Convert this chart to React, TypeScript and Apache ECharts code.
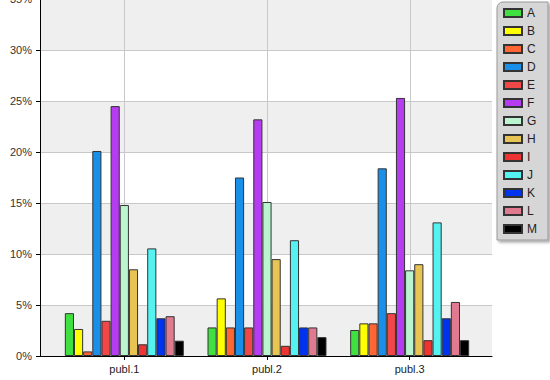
import React, { useEffect, useRef } from "react";
import * as echarts from "echarts";

const categories = ["publ.1", "publ.2", "publ.3"];
const seriesNames = ["A", "B", "C", "D", "E", "F", "G", "H", "I", "J", "K", "L", "M"];
const seriesColors = [
  "#3fe03f", "#ffff00", "#ff6633", "#1a8fe8", "#f04848", "#b53cf0", "#bbf5cf",
  "#e8c452", "#ee3333", "#55f2f2", "#0033ee", "#e07a90", "#000000",
];
const publ1 = [4.2, 2.65, 0.45, 20.1, 3.45, 24.5, 14.8, 8.5, 1.15, 10.55, 3.7, 3.9, 1.5];
const publ2 = [2.8, 5.65, 2.8, 17.5, 2.8, 23.2, 15.1, 9.5, 1.0, 11.35, 2.8, 2.8, 1.85];
const publ3 = [2.55, 3.2, 3.2, 18.4, 4.2, 25.3, 8.4, 9.0, 1.55, 13.1, 3.7, 5.3, 1.55];
const yTicks = [0, 5, 10, 15, 20, 25, 30, 35];

export default function App() {
  const ref = useRef<HTMLDivElement>(null);
  useEffect(() => {
    if (!ref.current) return;
    const chart = echarts.init(ref.current, undefined, { renderer: "svg" });
    const yMax = yTicks[yTicks.length - 1];
    const yStep = yTicks[1] - yTicks[0];
    const series: any[] = seriesNames.map((name, i) => ({
      name,
      type: "bar",
      xAxisIndex: 1,
      yAxisIndex: 1,
      barGap: "0%",
      barCategoryGap: "16.6%",
      data: [publ1[i], publ2[i], publ3[i]],
      itemStyle: { color: seriesColors[i], borderColor: "#333", borderWidth: 1 },
      z: 3,
    }));
    const hiddenY = { type: "value", min: 0, max: yMax, interval: yStep, show: false, splitLine: { show: false } };
    chart.setOption({
      animation: false,
      textStyle: { fontFamily: "Liberation Sans, Arial, sans-serif" },
      grid: [
        { left: 40, right: 58, top: -1, bottom: 24, outerBoundsMode: "none", containLabel: false },
        { left: 53, right: 69, top: -1, bottom: 24, outerBoundsMode: "none", containLabel: false },
        { left: 124, right: 140, top: -1, bottom: 24, outerBoundsMode: "none", containLabel: false },
      ],
      xAxis: [
        {
          type: "value",
          gridIndex: 0,
          min: 0,
          max: 1,
          axisLine: { show: true, lineStyle: { color: "#000", width: 1 } },
          axisTick: { show: false },
          axisLabel: { show: false },
          splitLine: { show: false },
        },
        {
          type: "category",
          gridIndex: 1,
          data: categories,
          axisLine: { show: false },
          axisTick: { show: true, alignWithLabel: true, length: 4, lineStyle: { color: "#000" } },
          axisLabel: { color: "#222", fontSize: 11, margin: 7 },
          splitLine: { show: false },
        },
        {
          type: "category",
          gridIndex: 2,
          data: categories,
          boundaryGap: false,
          axisLine: { show: false },
          axisTick: { show: false },
          axisLabel: { show: false },
          splitLine: { show: true, lineStyle: { color: "#c8c8c8", width: 1 } },
        },
      ],
      yAxis: [
        {
          type: "value",
          gridIndex: 0,
          min: 0,
          max: yMax,
          interval: yStep,
          axisLine: { show: true, lineStyle: { color: "#000", width: 1 } },
          axisTick: { show: true, length: 4, lineStyle: { color: "#000" } },
          axisLabel: { color: "#333", fontSize: 11, margin: 8, formatter: "{value}%" },
          splitLine: { show: true, lineStyle: { color: "#c8c8c8", width: 1 } },
          splitArea: { show: true, areaStyle: { color: ["#efefef", "#ffffff"] } },
        },
        { ...hiddenY, gridIndex: 1 },
        { ...hiddenY, gridIndex: 2 },
      ],
      legend: {
        data: seriesNames,
        orient: "vertical",
        left: 497,
        top: 2,
        icon: "rect",
        itemWidth: 18,
        itemHeight: 8,
        itemGap: 6,
        padding: [5, 11, 5, 6],
        backgroundColor: "#d6d6d6",
        borderColor: "#999",
        borderWidth: 1,
        borderRadius: [6, 0, 0, 0],
        shadowColor: "rgba(0,0,0,0.35)",
        shadowBlur: 3,
        shadowOffsetX: 2,
        shadowOffsetY: 2,
        textStyle: { color: "#222", fontSize: 12 },
      },
      series,
    });
    return () => chart.dispose();
  }, []);
  return (
    <div
      ref={ref}
      style={{ position: "fixed", left: 0, top: 0, width: 550, height: 380, background: "#fff" }}
    />
  );
}
